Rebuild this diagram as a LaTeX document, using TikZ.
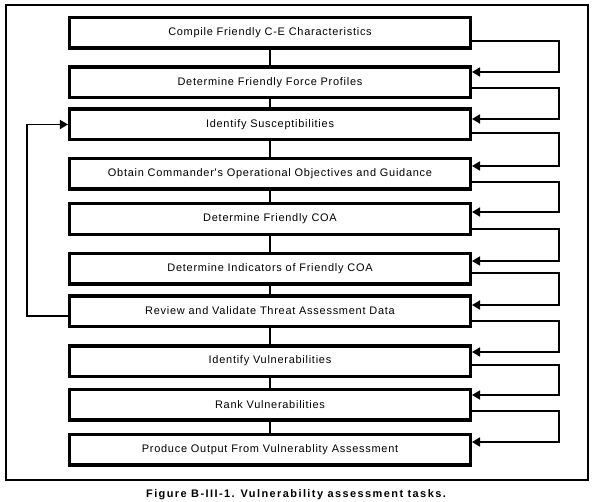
\documentclass[tikz,border=0pt]{standalone}
\usepackage{fontspec}
\setmainfont{Liberation Sans}
\newfontfamily\boxfont[LetterSpace=6.8]{Liberation Sans}
\newfontfamily\capfont[LetterSpace=13]{Liberation Sans}
\usetikzlibrary{arrows.meta}
\tikzset{
  task/.style={draw, line width=3.5bp, minimum width=400.5bp, minimum height=30.5bp,
    inner sep=0pt, font=\boxfont\fontsize{11}{13}\selectfont, fill=white},
  link/.style={line width=1.6bp},
  loop/.style={line width=1.6bp, -{Triangle[length=8bp,width=9bp]}},
  frame/.style={line width=2.5bp},
}
\begin{document}
\begin{tikzpicture}[x=1bp,y=-1bp]
\useasboundingbox (0,0) rectangle (595,502);
\node[draw, frame, minimum width=582bp, minimum height=475bp, inner sep=0pt, outer sep=0pt] (fr) at (297,242.5) {};
\node[task] (b1) at (270,33) {Compile Friendly C-E Characteristics};
\node[task] (b2) at (270,82.5) {Determine Friendly Force Profiles};
\node[task] (b3) at (270,124.5) {Identify Susceptibilities};
\node[task] (b4) at (270,174) {Obtain Commander's Operational Objectives and Guidance};
\node[task] (b5) at (270,219) {Determine Friendly COA};
\node[task] (b6) at (270,268.5) {Determine Indicators of Friendly COA};
\node[task] (b7) at (270,311) {Review and Validate Threat Assessment Data};
\node[task] (b8) at (270,361) {Identify Vulnerabilities};
\node[task] (b9) at (270,404.5) {Rank Vulnerabilities};
\node[task] (b10) at (270,449.5) {Produce Output From Vulnerablity Assessment};
\node[font=\capfont\bfseries\fontsize{11}{13}\selectfont] (cap) at (296,494.5) {Figure B-III-1. Vulnerability assessment tasks.};
\foreach \a/\b in {b1/b2,b2/b3,b3/b4,b4/b5,b5/b6,b6/b7,b7/b8,b8/b9,b9/b10}
  \draw[link] (\a.south) -- (\b.north);
\foreach \a/\b/\o/\i in {b1/b2/8/10.5,b2/b3/5.5/5.5,b3/b4/8.5/8,b4/b5/8/7,b5/b6/10/7.5,b6/b7/4.5/6,b7/b8/10/9,b8/b9/4/9.5,b9/b10/6.5/7.5}
  \draw[loop] ([yshift=-\o bp]\a.east) -- ++(87,0) |- ([yshift=\i bp]\b.east);
\draw[loop] ([yshift=-5bp]b7.west) -- ++(-41,0) |- (b3.west);
\end{tikzpicture}
\end{document}
